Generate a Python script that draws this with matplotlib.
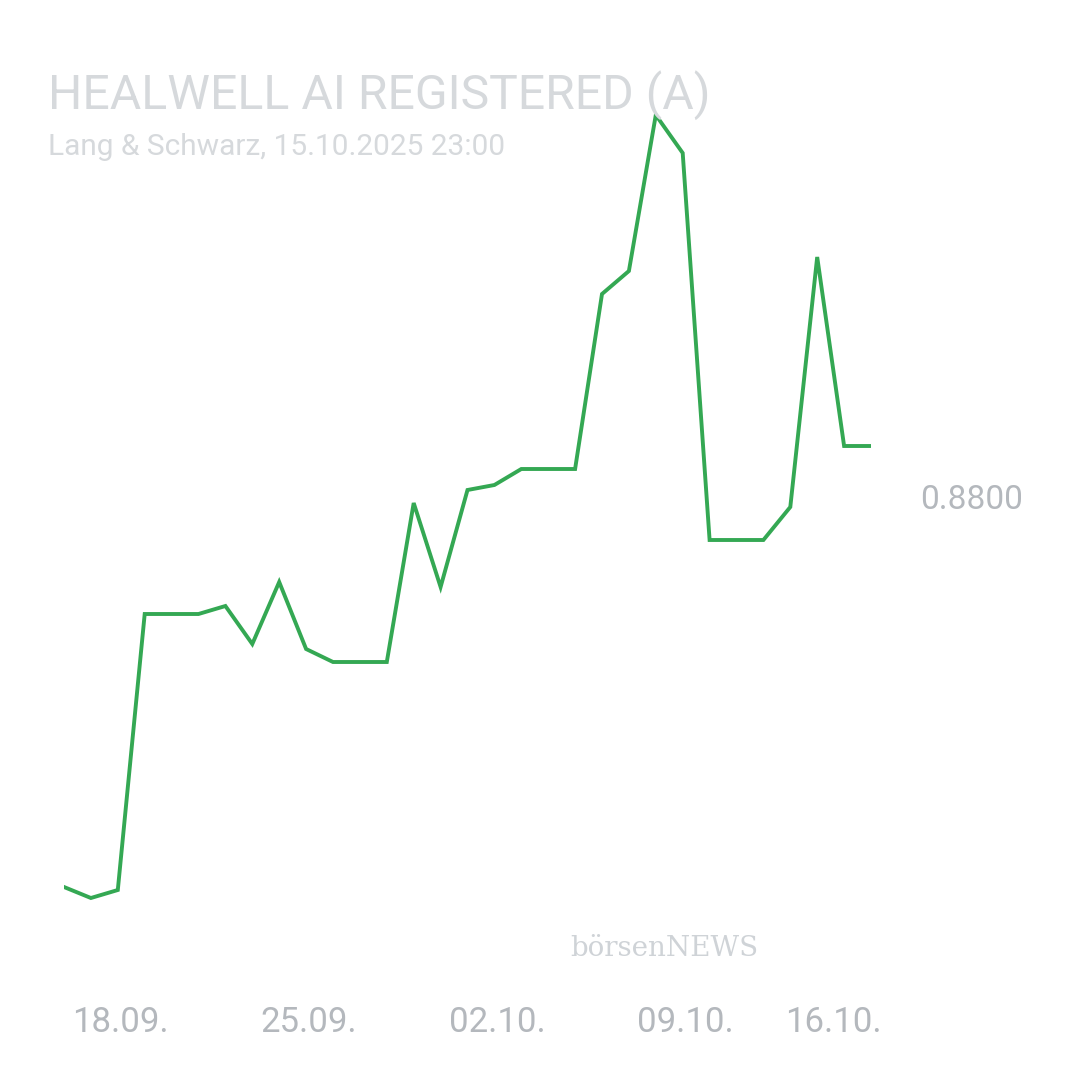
import matplotlib
matplotlib.use("Agg")
import matplotlib.pyplot as plt
import pandas as pd

dates = pd.date_range("2025-09-16", "2025-10-16", freq="D")
prices = [0.7252, 0.7208, 0.7240, 0.8344, 0.8344, 0.8344, 0.8376, 0.8224, 0.8472, 0.8204,
          0.8152, 0.8152, 0.8152, 0.8788, 0.8452, 0.8840, 0.8860, 0.8924, 0.8924, 0.8924,
          0.9624, 0.9716, 1.0340, 1.0188, 0.8640, 0.8640, 0.8640, 0.8772, 0.9772, 0.9016, 0.9016]
tick_labels = ["18.09.", "25.09.", "02.10.", "09.10.", "16.10."]
tick_idx = [2.1, 9.1, 16.1, 23.1, 28.6]

fig = plt.figure(figsize=(10.8, 10.8), dpi=100)
top_px, bot_px = 80, 940
ax = fig.add_axes([64/1080, 1-bot_px/1080, (871-64)/1080, (bot_px-top_px)/1080])
ax.set_xlim(0, 30)
ax.set_ylim(0.88-(bot_px-500)*0.0004, 0.88+(500-top_px)*0.0004)
ax.plot(range(len(prices)), prices, color="#34a853", lw=2.8, solid_joinstyle="miter")
ax.axis("off")

for i, lab in zip(tick_idx, tick_labels):
    ax.text(i, 0.88-(1022-500)*0.0004, lab, ha="center", va="center", fontsize=25,
            color="#b4b8bd", family="Roboto")
fig.text(972/1080, 1-500/1080, "0.8800", ha="center", va="center", fontsize=24,
         color="#b4b8bd", family="Roboto")
fig.text(48/1080, 1-95/1080, "HEALWELL AI REGISTERED (A)", ha="left", va="center",
         fontsize=34.7, color="#d6d9dc", family="Roboto")
fig.text(48/1080, 1-147/1080, "Lang & Schwarz, 15.10.2025 23:00", ha="left", va="center",
         fontsize=21.5, color="#d6d9dc", family="Roboto")
fig.text(570/1080, 1-948/1080, "börsenNEWS", ha="left", va="center", fontsize=20,
         color="#cfd3d7", family="DejaVu Serif")
fig.savefig("out.png", dpi=100, facecolor="white")
